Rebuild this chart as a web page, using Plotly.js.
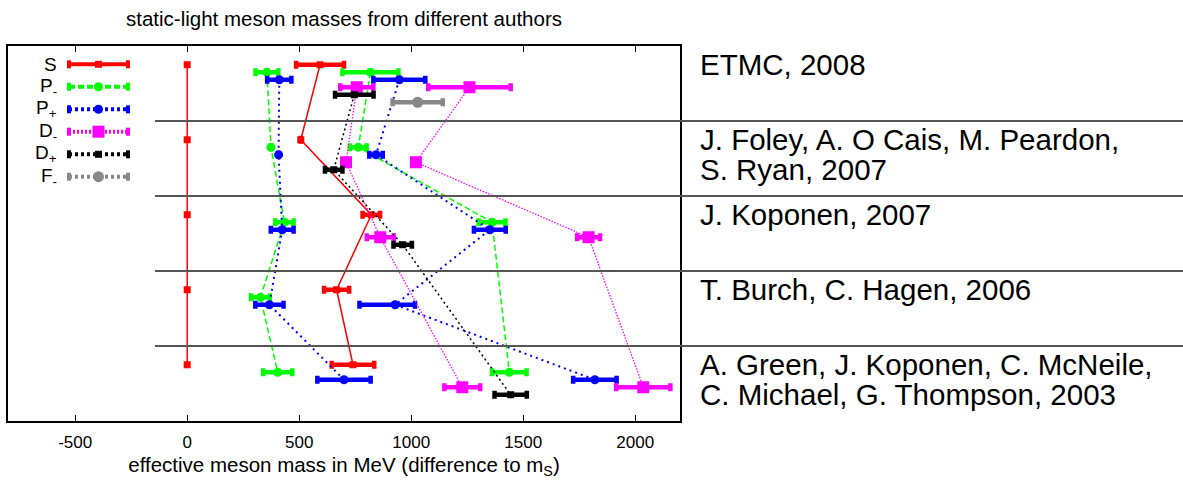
<!DOCTYPE html>
<html>
<head>
<meta charset="utf-8">
<script src="https://cdn.plot.ly/plotly-3.0.1.min.js"></script>
<style>
  html, body { margin: 0; padding: 0; background: #ffffff; }
  #chart { width: 1183px; height: 482px; }
</style>
</head>
<body>
<div id="chart"></div>
<script>
// Publications, one horizontal band each (top to bottom)
const authors = [
  ["ETMC, 2008"],
  ["J. Foley, A. O Cais, M. Peardon,", "S. Ryan, 2007"],
  ["J. Koponen, 2007"],
  ["T. Burch, C. Hagen, 2006"],
  ["A. Green, J. Koponen, C. McNeile,", "C. Michael, G. Thompson, 2003"]
];

// States, in the order they are stacked inside each band
const stateLabels = ["S", "P<sub>-</sub>", "P<sub>+</sub>", "D<sub>-</sub>", "D<sub>+</sub>", "F<sub>-</sub>"];

const tickValues = [-500, 0, 500, 1000, 1500, 2000];

// Mass differences to m_S in MeV, one entry per publication (null = not computed)
const S_ground      = [0, 0, 0, 0, 0];
const S_excited     = [593, 507, 822, 667, 740];
const S_excitedErr  = [107, null, 39, 56, 95];

const Pm_ground     = [356, 374, 434, 327, 404];
const Pm_groundErr  = [51, null, 41, 42, 65];
const Pm_excited    = [818, 764, 1361, null, 1438];
const Pm_excitedErr = [125, 37, 60, null, 77];

const Pp_ground         = [411, 408, 424, 367, 700];
const Pp_groundErr      = [54, null, 51, 63, 119];
const Pp_excited        = [947, 843, 1351, 928, 1820];
const Pp_excitedErrUp   = [116, 30, 71, 89, 97];
const Pp_excitedErrDown = [116, 30, 71, 159, 97];

const Dm_ground     = [757, 709, 862, null, 1228];
const Dm_groundErr  = [74, null, 60, null, 80];
const Dm_excited    = [1260, 1021, 1792, null, 2036];
const Dm_excitedErr = [184, null, 51, null, 121];

const Dp_ground     = [746, 654, 962, null, 1444];
const Dp_groundErr  = [86, 39, 41, null, 72];

const Fm_ground     = [1029, null, null, null, null];
const Fm_groundErr  = [112, null, null, null, null];

// ---- drawing ----
const FONT = "Liberation Sans, Arial, sans-serif";
const BAND = 10;        // y units per publication band
const ROW0 = 2.5;       // offset of the first state row inside a band

const styles = [
  {color: "#ff0000", dash: "solid",       width: 1.5, symbol: "square", size: 7,  legendDash: "solid"},
  {color: "#00ff00", dash: "6px,3px",     width: 1.5, symbol: "circle", size: 9,  legendDash: "6px,3px"},
  {color: "#0000ff", dash: "2px,4px",     width: 2,   symbol: "circle", size: 9,  legendDash: "3px,3px"},
  {color: "#ff00ff", dash: "1.5px,1.5px", width: 1.3, symbol: "square", size: 12, legendDash: "2px,2px"},
  {color: "#000000", dash: "2px,3px",     width: 1.5, symbol: "square", size: 7,  legendDash: "3px,3px"},
  {color: "#888888", dash: "2px,3px",     width: 1.5, symbol: "circle", size: 11, legendDash: "3px,3px"}
];

function rowY(state) {
  return authors.map((_, b) => b * BAND + ROW0 + state);
}

function series(state, values, errUp, errDown) {
  const st = styles[state];
  const tr = {
    type: "scatter",
    mode: "lines+markers",
    x: values,
    y: rowY(state),
    connectgaps: true,
    line: {color: st.color, width: st.width, dash: st.dash},
    marker: {color: st.color, symbol: st.symbol, size: st.size},
    hoverinfo: "skip",
    showlegend: false
  };
  if (errUp) {
    tr.error_x = {
      type: "data",
      array: errUp,
      arrayminus: errDown || errUp,
      symmetric: !errDown,
      color: st.color,
      thickness: 4.5,
      width: 4
    };
  }
  return tr;
}

const traces = [
  series(0, S_ground),
  series(0, S_excited, S_excitedErr),
  series(1, Pm_ground, Pm_groundErr),
  series(1, Pm_excited, Pm_excitedErr),
  series(2, Pp_ground, Pp_groundErr),
  series(2, Pp_excited, Pp_excitedErrUp, Pp_excitedErrDown),
  series(3, Dm_ground, Dm_groundErr),
  series(3, Dm_excited, Dm_excitedErr),
  series(4, Dp_ground, Dp_groundErr),
  series(5, Fm_ground, Fm_groundErr)
];

// plot box in pixels
const box = {l: 8, t: 46, w: 672, h: 375};
const W = 1183, H = 482;
const px = x => (x - box.l) / box.w;
const py = y => (box.t + box.h - y) / box.h;

const shapes = [];
const annotations = [];

// band separators, running from the middle of the plot out to the page edge
for (let b = 1; b < authors.length; b++) {
  shapes.push({
    type: "line", xref: "paper", yref: "y",
    x0: px(155), x1: px(W), y0: b * BAND, y1: b * BAND,
    line: {color: "#555555", width: 2}, layer: "above"
  });
}

// publication labels
authors.forEach((lines, b) => {
  lines.forEach((txt, j) => {
    const yPix = box.t + b * BAND * (box.h / 50) + 18.5 + 30 * j;
    annotations.push({
      xref: "paper", yref: "paper", x: px(698), y: py(yPix),
      xanchor: "left", yanchor: "middle",
      text: txt, showarrow: false,
      font: {family: FONT, size: 29.5, color: "#000000"}
    });
  });
});

// key in the upper left corner
const keyY = [64.3, 86.7, 109.3, 131.7, 154.3, 176.7];
const kx0 = 69, kx1 = 128, kxm = 98.5;
styles.forEach((st, k) => {
  const y = keyY[k];
  shapes.push({type: "line", xref: "paper", yref: "paper",
    x0: px(kx0), x1: px(kx1), y0: py(y), y1: py(y),
    line: {color: st.color, width: 4, dash: st.legendDash}});
  [kx0, kx1].forEach(xc => shapes.push({type: "line", xref: "paper", yref: "paper",
    x0: px(xc), x1: px(xc), y0: py(y - 4), y1: py(y + 4),
    line: {color: st.color, width: 4}}));
  const r = st.size / 2;
  shapes.push({type: st.symbol === "circle" ? "circle" : "rect", xref: "paper", yref: "paper",
    x0: px(kxm - r), x1: px(kxm + r), y0: py(y - r), y1: py(y + r),
    fillcolor: st.color, line: {color: st.color, width: 0}});
  annotations.push({
    xref: "paper", yref: "paper", x: px(59), y: py(y),
    xanchor: "right", yanchor: "middle",
    text: stateLabels[k], showarrow: false,
    font: {family: FONT, size: 19, color: "#000000"}
  });
});

const layout = {
  width: W, height: H,
  margin: {l: box.l, r: W - box.l - box.w, t: box.t, b: H - box.t - box.h, pad: 0},
  paper_bgcolor: "#ffffff", plot_bgcolor: "#ffffff",
  showlegend: false,
  hovermode: false,
  title: {
    text: "static-light meson masses from different authors",
    font: {family: FONT, size: 20.5, color: "#000000"},
    xref: "paper", x: 0.5, xanchor: "center",
    yref: "container", y: 1 - 19 / H, yanchor: "middle"
  },
  xaxis: {
    range: [-800, 2200],
    tickvals: tickValues,
    ticktext: tickValues.map(String),
    ticks: "inside", ticklen: 6, tickwidth: 1.2, tickcolor: "#000000",
    ticklabelstandoff: 5,
    showline: true, linecolor: "#000000", linewidth: 1.5, mirror: "ticks",
    showgrid: false, zeroline: false,
    tickfont: {family: FONT, size: 17, color: "#000000"},
    title: {
      text: "effective meson mass in MeV (difference to m<sub>S</sub>)",
      font: {family: FONT, size: 20.5, color: "#000000"},
      standoff: 6
    }
  },
  yaxis: {
    range: [BAND * authors.length, 0],
    showticklabels: false, ticks: "",
    showline: true, linecolor: "#000000", linewidth: 1.5, mirror: true,
    showgrid: false, zeroline: false
  },
  shapes: shapes,
  annotations: annotations
};

Plotly.newPlot("chart", traces, layout, {displayModeBar: false});
</script>
</body>
</html>
